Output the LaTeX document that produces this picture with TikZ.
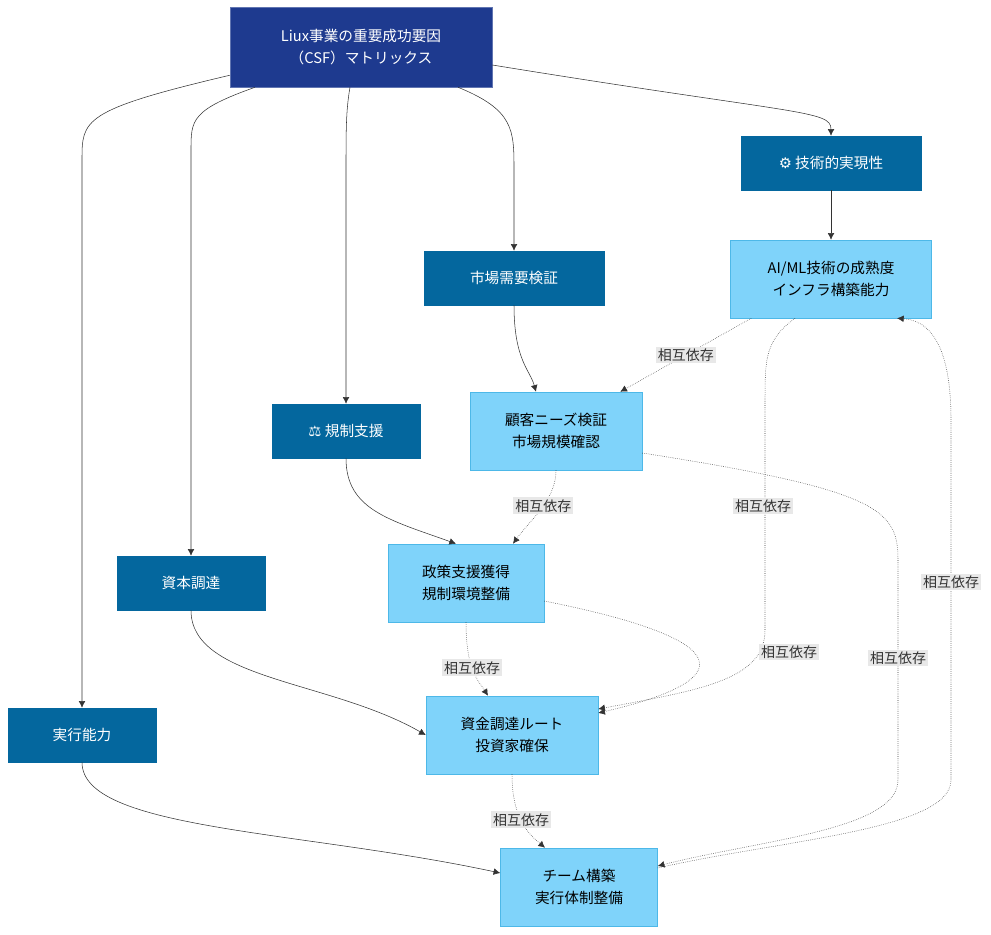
\documentclass[tikz,border=0pt]{standalone}
\usepackage{fontspec}
\setmainfont{Noto Sans CJK JP}
\newfontfamily\symfont{DejaVu Sans}
\usetikzlibrary{calc,arrows.meta}
\definecolor{topblue}{HTML}{1E3A8F}
\definecolor{catblue}{HTML}{04679E}
\definecolor{leafblue}{HTML}{7FD3FA}
\definecolor{leafline}{HTML}{4DB8E8}
\definecolor{lblgray}{HTML}{E8E8E8}
\tikzset{
  root/.style={draw=topblue!70!white,fill=topblue,text=white,minimum width=262*0.75pt,minimum height=80*0.75pt,align=center,font=\fontsize{11}{16}\selectfont},
  cat/.style={draw=catblue,fill=catblue,text=white,minimum height=54*0.75pt,align=center,font=\fontsize{11}{14}\selectfont},
  leaf/.style={draw=leafline,fill=leafblue,text=black,minimum height=78*0.75pt,align=center,font=\fontsize{11}{16}\selectfont},
  link/.style={draw=black!80,-{Latex[length=5pt,width=5pt]}},
  dep/.style={draw=black!80,densely dotted,-{Latex[length=5pt,width=5pt]}},
  tag/.style={fill=lblgray,inner sep=1.5pt,font=\fontsize{10.5}{12}\selectfont,text=black!80}
}
\begin{document}
\begin{tikzpicture}[x=0.75pt,y=-0.75pt]
\useasboundingbox (0,0) rectangle (991,934);
\fill[white] (0,0) rectangle (991,934);
% categories
\node[root] (csf) at (361,47) {Liux事業の重要成功要因\\（CSF）マトリックス};
\node[cat,minimum width=180*0.75pt] (tech) at (831,163) {{\symfont ⚙} 技術的実現性};
\node[cat,minimum width=180*0.75pt] (market) at (514,278) {市場需要検証};
\node[cat,minimum width=148*0.75pt] (reg) at (346,431) {{\symfont ⚖} 規制支援};
\node[cat,minimum width=148*0.75pt] (cap) at (191,583) {資本調達};
\node[cat,minimum width=148*0.75pt] (exe) at (82,735) {実行能力};
% items
\node[leaf,minimum width=201*0.75pt] (ai) at (831,279) {AI/ML技術の成熟度\\インフラ構築能力};
\node[leaf,minimum width=172*0.75pt] (cust) at (556,431) {顧客ニーズ検証\\市場規模確認};
\node[leaf,minimum width=156*0.75pt] (policy) at (466,583) {政策支援獲得\\規制環境整備};
\node[leaf,minimum width=172*0.75pt] (fund) at (512,735) {資金調達ルート\\投資家確保};
\node[leaf,minimum width=157*0.75pt] (team) at (579,887) {チーム構築\\実行体制整備};
% solid links
\draw[link] (csf.east) ++(0,18) .. controls (800,115) and (831,110) .. (tech.north);
\draw[link] ($(csf.south)+(97,0)$) .. controls (514,110) and (514,130) .. (514,170) -- (market.north);
\draw[link] ($(csf.south)+(-11,0)$) .. controls (346,110) and (346,130) .. (346,170) -- (reg.north);
\draw[link] ($(csf.south)+(-106,0)$) .. controls (191,110) and (191,120) .. (191,150) -- (cap.north);
\draw[link] ($(csf.south west)+(0,-12)$) .. controls (82,110) and (82,120) .. (82,160) -- (exe.north);
\draw[link] (tech) -- (ai);
\draw[link] (market.south) .. controls (514,360) and (530,370) .. ($(cust.north)+(-20,0)$);
\draw[link] (reg.south) .. controls (346,510) and (390,520) .. ($(policy.north)+(-10,0)$);
\draw[link] (cap.south) .. controls (191,680) and (330,680) .. (fund.west);
\draw[link] (exe.south) .. controls (82,830) and (300,830) .. ($(team.west)+(0,-14)$);
% dependencies
\draw[dep] ($(ai.south west)+(21,0)$) -- ($(cust.north east)+(-22,0)$) node[tag,midway] {相互依存};
\draw[dep] ($(cust.south)+(0,0)$) .. controls (556,500) and (530,520) .. ($(policy.north)+(47,0)$) node[tag,pos=0.45] {相互依存};
\draw[dep] ($(policy.south)+(0,0)$) .. controls (466,670) and (478,680) .. ($(fund.north)+(-24,0)$) node[tag,pos=0.45] {相互依存};
\draw[dep] ($(fund.south)+(0,0)$) .. controls (512,820) and (530,835) .. ($(team.north)+(-34,0)$) node[tag,pos=0.45] {相互依存};
\draw[dep] ($(ai.south)+(-36,0)$) .. controls (765,340) and (765,360) .. (765,400) -- (765,630) .. controls (765,680) and (700,690) .. ($(fund.east)+(0,-26)$);
\node[tag] (t1) at (763,506) {相互依存};
\draw[dep] ($(policy.east)+(0,18)$) .. controls (740,640) and (740,680) .. ($(fund.east)+(0,-22)$);
\node[tag] (t2) at (789,652) {相互依存};
\draw[dep] ($(cust.east)+(0,22)$) .. controls (880,490) and (898,510) .. (898,560) -- (898,780) .. controls (898,830) and (760,840) .. ($(team.east)+(0,-21)$);
\node[tag] (t3) at (898,658) {相互依存};
\draw[dep] ($(team.east)+(0,-19)$) .. controls (780,840) and (951,830) .. (951,780) -- (951,420) .. controls (951,330) and (920,320) .. ($(ai.south)+(66,0)$);
\node[tag] (t4) at (951,582) {相互依存};
\end{tikzpicture}
\end{document}
